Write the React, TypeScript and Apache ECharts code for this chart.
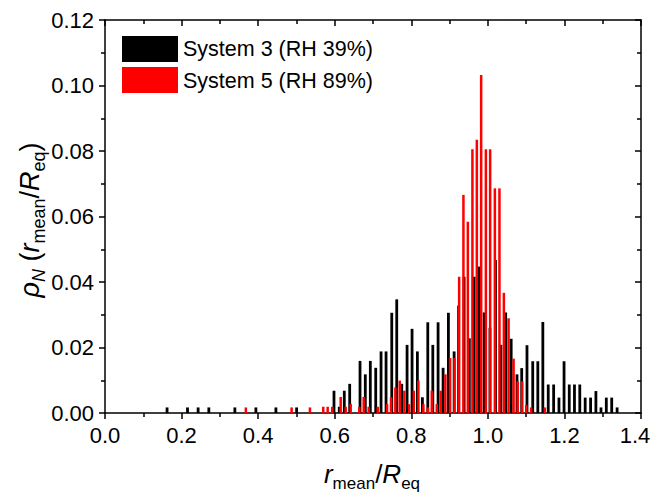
import React, { useEffect, useRef } from "react";
import * as echarts from "echarts";

// Bin centres (r_mean/R_eq) and probability densities
const sys3X = [
  0.1621, 0.2155, 0.2432, 0.2712, 0.3392, 0.3941, 0.4464, 0.5005,
  0.5981, 0.6119, 0.625, 0.6391, 0.6661, 0.6799, 0.693, 0.7071, 0.721, 0.7341,
  0.749, 0.762, 0.7751, 0.789, 0.802, 0.8159, 0.829, 0.8431, 0.8562, 0.87,
  0.8831, 0.897, 0.9119, 0.9236, 0.938, 0.9516, 0.9642, 0.978, 0.9903, 1.0055,
  1.0199, 1.034, 1.0466, 1.0609, 1.0761, 1.0884, 1.1022, 1.1172, 1.1305, 1.1436,
  1.1577, 1.1718, 1.1857, 1.199, 1.2126, 1.2262, 1.2401, 1.2542, 1.2683, 1.2822,
  1.2955, 1.3094, 1.3235, 1.3376,
];
const sys3Y = [
  0.0017, 0.0017, 0.0017, 0.0017, 0.0017, 0.0017, 0.0017, 0.0017,
  0.0068, 0.0019, 0.0068, 0.0089, 0.0159, 0.0118, 0.0159, 0.0138, 0.0188, 0.0188,
  0.0306, 0.0347, 0.0089, 0.0208, 0.0257, 0.0188, 0.0048, 0.0277, 0.0208, 0.0277,
  0.0138, 0.0306, 0.0188, 0.0328, 0.0416, 0.0228, 0.0416, 0.0447, 0.0307, 0.026,
  0.0467, 0.0208, 0.0307, 0.0227, 0.0118, 0.0137, 0.0207, 0.0158, 0.0158, 0.0278,
  0.0087, 0.0087, 0.0047, 0.0158, 0.0087, 0.0087, 0.0087, 0.0047, 0.0047, 0.0067,
  0.0017, 0.0047, 0.0047, 0.0017,
];
const sys5X = [
  0.3679, 0.4874, 0.5353, 0.5701, 0.5816, 0.5936, 0.6156, 0.6287, 0.6417, 0.6642,
  0.6757, 0.6888, 0.7123, 0.7367, 0.7471, 0.7584, 0.7699, 0.7819, 0.7942, 0.8065,
  0.8185, 0.8316, 0.8431, 0.8536, 0.8666, 0.8771, 0.8891, 0.9014, 0.9127, 0.925,
  0.9362, 0.9477, 0.9597, 0.9712, 0.9825, 0.9948, 1.006, 1.0183, 1.0303, 1.0418,
  1.0541, 1.0672, 1.0779, 1.0897, 1.1002, 1.113, 1.1488,
];
const sys5Y = [
  0.0017, 0.0017, 0.0017, 0.0019, 0.0019, 0.0019, 0.0049, 0.0019, 0.0028, 0.0019,
  0.0049, 0.0019, 0.0019, 0.0027, 0.0048, 0.0078, 0.0099, 0.0068, 0.0027, 0.0068,
  0.0099, 0.0027, 0.0017, 0.0068, 0.0027, 0.0068, 0.0118, 0.0168, 0.0168, 0.0416,
  0.0666, 0.0584, 0.0805, 0.0834, 0.1032, 0.0805, 0.0805, 0.0686, 0.0686, 0.0367,
  0.0289, 0.0166, 0.0097, 0.0097, 0.0025, 0.0017, 0.0017,
];
const seriesNames = ["System 3 (RH 39%)", "System 5 (RH 89%)"];
const seriesColors = ["#000000", "#ff0000"];

const FONT = "'Liberation Sans', Arial, sans-serif";

export default function App() {
  const ref = useRef<HTMLDivElement>(null);
  useEffect(() => {
    if (!ref.current) return;
    const chart = echarts.init(ref.current, undefined, { renderer: "svg" });
    const axisLine = { show: true, onZero: false, lineStyle: { color: "#000", width: 1.5 } };
    const tickStyle = { color: "#000", width: 1.5 };
    const option: any = {
      animation: false,
      backgroundColor: "#fff",
      textStyle: { fontFamily: FONT },
      grid: { left: 105, right: 11, top: 20, bottom: 80, containLabel: false, outerBoundsMode: "none" },
      xAxis: [
        {
          type: "value", position: "bottom", min: 0, max: 1.4, interval: 0.2,
          axisLine, splitLine: { show: false },
          axisTick: { show: true, inside: false, length: 6, lineStyle: tickStyle },
          minorTick: { show: true, splitNumber: 2, length: 4, lineStyle: tickStyle },
          axisLabel: {
            color: "#000", fontSize: 22, fontFamily: FONT, margin: 11,
            formatter: (v: number) => (v >= 1.39 ? `{last|${v.toFixed(1)}}` : v.toFixed(1)),
            rich: { last: { fontSize: 22, fontFamily: FONT, color: "#000", padding: [0, 12, 0, 0] } },
          },
        },
        {
          type: "value", position: "top", min: 0, max: 1.4, interval: 0.2,
          axisLine, splitLine: { show: false },
          axisTick: { show: true, inside: true, length: 6, lineStyle: tickStyle },
          minorTick: { show: true, splitNumber: 2, length: 4, lineStyle: tickStyle },
          axisLabel: { show: false },
        },
        {
          type: "value", position: "bottom", min: 0, max: 1.4, show: false,
        },
      ],
      yAxis: [
        {
          type: "value", position: "left", min: 0, max: 0.12, interval: 0.02,
          axisLine, splitLine: { show: false },
          axisTick: { show: true, inside: false, length: 6, lineStyle: tickStyle },
          minorTick: { show: true, splitNumber: 2, length: 4, lineStyle: tickStyle },
          axisLabel: { color: "#000", fontSize: 22, fontFamily: FONT, margin: 11, formatter: (v: number) => v.toFixed(2) },
        },
        {
          type: "value", position: "right", min: 0, max: 0.12, interval: 0.02,
          axisLine, splitLine: { show: false },
          axisTick: { show: true, inside: true, length: 6, lineStyle: tickStyle },
          minorTick: { show: true, splitNumber: 2, length: 4, lineStyle: tickStyle },
          axisLabel: { show: false },
        },
      ],
      series: [
        {
          name: seriesNames[0], type: "bar", xAxisIndex: 0, yAxisIndex: 0, barWidth: 2.8,
          itemStyle: { color: seriesColors[0] },
          data: sys3X.map((x, i) => [x, sys3Y[i]]),
        },
        {
          name: seriesNames[1], type: "bar", xAxisIndex: 2, yAxisIndex: 0, barWidth: 2.5,
          itemStyle: { color: seriesColors[1] },
          data: sys5X.map((x, i) => [x, sys5Y[i]]),
        },
      ],
      graphic: [
        { type: "rect", shape: { x: 122, y: 36, width: 56, height: 26 }, style: { fill: seriesColors[0] } },
        { type: "rect", shape: { x: 122, y: 67, width: 56, height: 26 }, style: { fill: seriesColors[1] } },
        { type: "text", x: 183, y: 49, style: { text: seriesNames[0], fill: "#000", font: `21.5px ${FONT}`, verticalAlign: "middle" } },
        { type: "text", x: 183, y: 81, style: { text: seriesNames[1], fill: "#000", font: `21.5px ${FONT}`, verticalAlign: "middle" } },
        {
          type: "text", x: 372, y: 474,
          style: {
            text: "{i|r}{s|mean}{n|/}{i|R}{s|eq}",
            align: "center", verticalAlign: "middle", fill: "#000",
            rich: {
              i: { fontSize: 26, fontStyle: "italic", fontFamily: FONT, fill: "#000" },
              n: { fontSize: 26, fontFamily: FONT, fill: "#000" },
              s: { fontSize: 17, fontFamily: FONT, fill: "#000", padding: [18, 0, 0, 0] },
            },
          },
        },
        {
          type: "text", x: 30, y: 220, rotation: Math.PI / 2,
          style: {
            text: "{i|ρ}{si|N}{n| (}{i|r}{s|mean}{n|/}{i|R}{s|eq}{n|)}",
            align: "center", verticalAlign: "middle", fill: "#000",
            rich: {
              i: { fontSize: 27, fontStyle: "italic", fontFamily: FONT, fill: "#000" },
              n: { fontSize: 27, fontFamily: FONT, fill: "#000" },
              si: { fontSize: 18, fontStyle: "italic", fontFamily: FONT, fill: "#000", padding: [18, 0, 0, 0] },
              s: { fontSize: 18, fontFamily: FONT, fill: "#000", padding: [18, 0, 0, 0] },
            },
          },
        },
      ],
    };
    chart.setOption(option);
    return () => chart.dispose();
  }, []);
  return (
    <div
      ref={ref}
      style={{ position: "fixed", left: 0, top: 0, width: 652, height: 493, background: "#fff" }}
    />
  );
}
